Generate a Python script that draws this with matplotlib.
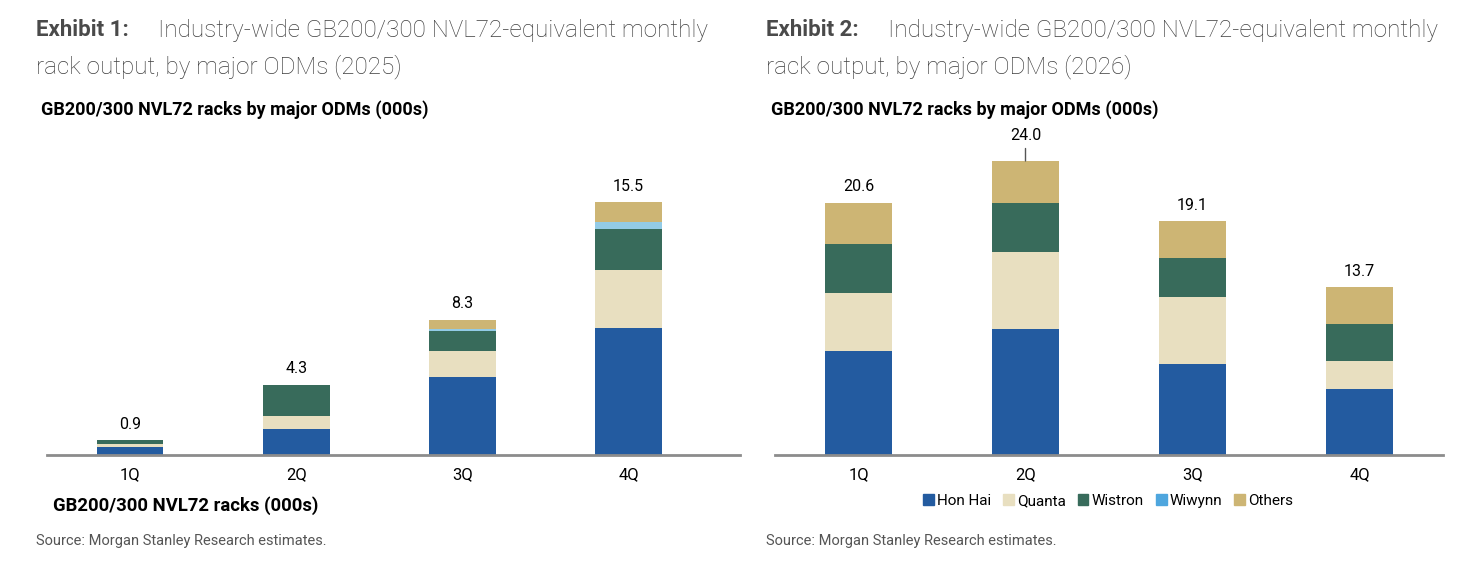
import matplotlib.pyplot as plt
from matplotlib.patches import Patch

# data (000s racks)
quarters = ['1Q', '2Q', '3Q', '4Q']
odms = ['Hon Hai', 'Quanta', 'Wistron', 'Wiwynn', 'Others']

hon_hai_25 = [0.5, 1.6, 4.8, 7.8]
quanta_25 = [0.2, 0.8, 1.55, 3.55]
wistron_25 = [0.2, 1.9, 1.25, 2.5]
wiwynn_25 = [0.0, 0.0, 0.15, 0.45]
others_25 = [0.0, 0.0, 0.55, 1.2]
totals_25 = [0.9, 4.3, 8.3, 15.5]

hon_hai_26 = [8.5, 10.3, 7.45, 5.4]
quanta_26 = [4.75, 6.3, 5.45, 2.3]
wistron_26 = [3.95, 3.95, 3.2, 3.0]
wiwynn_26 = [0.0, 0.0, 0.0, 0.0]
others_26 = [3.4, 3.45, 3.0, 3.0]
totals_26 = [20.6, 24.0, 19.1, 13.7]

colors = ['#235ba0', '#e8dfc0', '#386b5b', '#93cbe6', '#cdb574']
legend_colors = ['#235ba0', '#e8dfc0', '#386b5b', '#4ea6de', '#cdb574']

W, H = 1476, 566
plt.rcParams['font.family'] = ['Roboto', 'DejaVu Sans']
cond = ['Roboto', 'DejaVu Sans']

fig = plt.figure(figsize=(W / 100, H / 100), dpi=100)


def fx(x):
    return x / W


def fy(y):
    return 1 - y / H


def draw_stack(ax, series, totals, ymax, xmax, leader=None):
    x = list(range(len(quarters)))
    bottom = [0.0] * len(quarters)
    for vals, c in zip(series, colors):
        ax.bar(x, vals, 0.4, bottom=bottom, color=c, linewidth=0)
        bottom = [b + v for b, v in zip(bottom, vals)]
    for i, t in enumerate(totals):
        if i == leader:
            # label lifted with a short leader line, as in the source
            ax.annotate(f'{t:.1f}', (i, t), xytext=(0, 13), textcoords='offset points',
                        ha='center', va='bottom', fontsize=11.5, family=cond,
                        arrowprops=dict(arrowstyle='-', color='#555555', lw=1,
                                        shrinkA=2, shrinkB=0))
        else:
            ax.annotate(f'{t:.1f}', (i, t), xytext=(0, 6), textcoords='offset points',
                        ha='center', va='bottom', fontsize=11.5, family=cond)
    ax.set_xlim(-0.5, xmax)
    ax.set_ylim(0, ymax)
    for s in ['top', 'right', 'left']:
        ax.spines[s].set_visible(False)
    ax.spines['bottom'].set_color('#8c8c8c')
    ax.spines['bottom'].set_linewidth(2)
    ax.set_yticks([])
    ax.set_xticks(x)
    ax.set_xticklabels(quarters, fontsize=12, family=cond)
    ax.tick_params(axis='x', length=0, pad=9)


# left chart (2025)
ax1 = fig.add_axes([fx(47), fy(455), fx(740 - 47), (455 - 140) / H])
draw_stack(ax1, [hon_hai_25, quanta_25, wistron_25, wiwynn_25, others_25],
           totals_25, 315 / 16.32, 3.67)

# right chart (2026)
ax2 = fig.add_axes([fx(775), fy(455), fx(1443 - 775), (455 - 140) / H])
draw_stack(ax2, [hon_hai_26, quanta_26, wistron_26, wiwynn_26, others_26],
           totals_26, 315 / 12.25, 3.5, leader=1)

# titles
for x0, num, yr in [(36, '1', '2025'), (766, '2', '2026')]:
    fig.text(fx(x0), fy(30), f'Exhibit {num}:', fontsize=16, fontweight='bold',
             color='#4a4a4a', va='center')
    fig.text(fx(x0 + 122), fy(30), 'Industry-wide GB200/300 NVL72-equivalent monthly',
             fontsize=17.5, fontweight='light', color='#3f3f3f', va='center')
    fig.text(fx(x0), fy(67), f'rack output, by major ODMs ({yr})',
             fontsize=17.5, fontweight='light', color='#3f3f3f', va='center')
    fig.text(fx(x0 + 5), fy(110), 'GB200/300 NVL72 racks by major ODMs (000s)',
             fontsize=13, fontweight='bold', family=cond, va='center')
    fig.text(fx(x0), fy(541), 'Source: Morgan Stanley Research estimates.',
             fontsize=10.5, color='#555555', va='center')

fig.text(fx(53), fy(506), 'GB200/300 NVL72 racks (000s)', fontsize=13.3,
         fontweight='bold', family=cond, va='center')

handles = [Patch(color=c, label=n) for c, n in zip(legend_colors, odms)]
fig.legend(handles=handles, loc='center', bbox_to_anchor=(fx(1108), fy(501)),
           ncol=5, frameon=False, handlelength=0.7, handleheight=0.7,
           handletextpad=0.2, columnspacing=0.8,
           prop={'family': cond, 'size': 11})

fig.savefig('out.png', dpi=100)
